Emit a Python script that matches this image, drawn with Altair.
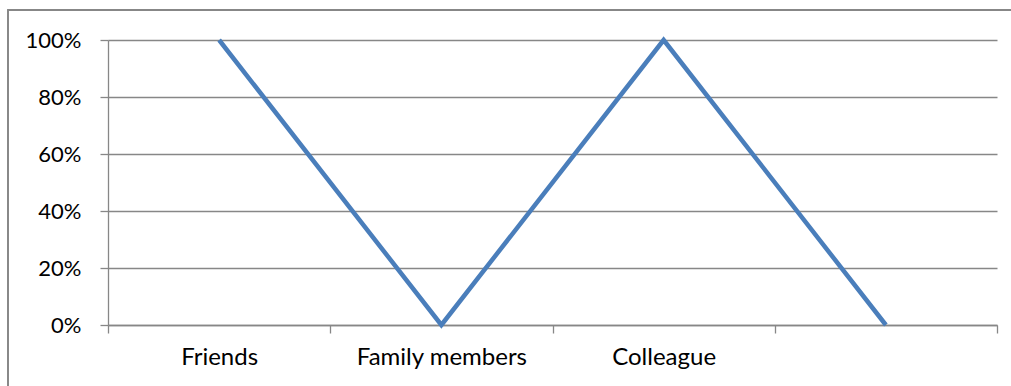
import altair as alt
import pandas as pd

# Share of responses per relationship group
categories = ["Friends", "Family members", "Colleague", ""]
shares = [1.0, 0.0, 1.0, 0.0]

df = pd.DataFrame({"group": categories, "share": shares})

FONT = "Lato"
GRID = "#878787"

x_enc = alt.X(
    "group:N",
    sort=categories,
    scale=alt.Scale(paddingInner=0, paddingOuter=0),
    axis=alt.Axis(
        title=None,
        labelAngle=0,
        tickBand="extent",
        tickSize=8,
        tickColor=GRID,
        domainColor=GRID,
        labelPadding=12,
        labelFontSize=24,
        grid=False,
    ),
)
y_enc = alt.Y(
    "share:Q",
    scale=alt.Scale(domain=[0, 1]),
    axis=alt.Axis(
        title=None,
        format=".0%",
        values=[0, 0.2, 0.4, 0.6, 0.8, 1.0],
        tickSize=8,
        tickColor=GRID,
        domainColor=GRID,
        gridColor=GRID,
        labelPadding=19,
        labelFontSize=22,
    ),
)

line = alt.Chart(df).mark_line(
    color="#4A7EBB", strokeWidth=4.5, strokeCap="butt"
).encode(x=x_enc, y=y_enc)

# outer chart frame
frame = alt.Chart(df).mark_rect(
    fill=None, stroke=GRID, strokeWidth=1.3
).encode(
    x=alt.value(-100), x2=alt.value(920),
    y=alt.value(-30), y2=alt.value(360),
)

chart = alt.layer(frame, line).properties(
    width=889,
    height=285,
    background="white",
    autosize=alt.AutoSizeParams(type="none"),
    padding={"left": 108, "top": 40, "right": 14, "bottom": 61},
).configure_view(
    stroke=None
).configure_axis(
    labelFont=FONT,
    labelColor="#000000",
    gridWidth=1.3,
    domainWidth=1.3,
    tickWidth=1.3,
)

chart.save("out.html", embed_options={"renderer": "svg", "actions": False})
